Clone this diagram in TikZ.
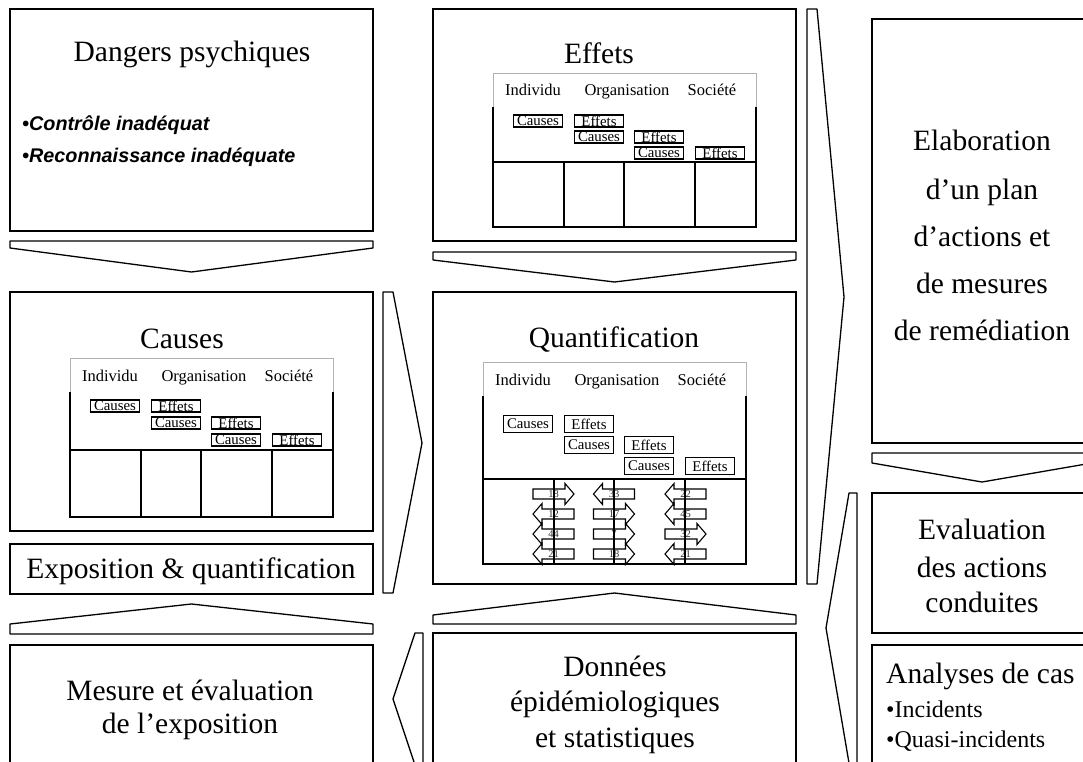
\documentclass[tikz,border=0pt]{standalone}
\usepackage{fontspec}
\setmainfont{Liberation Serif}
\newfontfamily\sansbi{Liberation Sans}

% Small three-level table: #1 name prefix, #2 left, #3 top, #4 height,
% #5 offset of the inner rule, #6 tag height, #7-#9 tag row offsets
\newcommand{\gridtab}[9]{%
  \begin{scope}[shift={(#2,#3)}]
    \draw[gray!60, line width=0.6pt] (0,34) -- (0,0) -- (263,0) -- (263,34);
    \draw[line width=1.2pt] (0,34) -- (0,#4) -- (263,#4) -- (263,34);
    \draw[line width=1.2pt] (0,#5) -- (263,#5);
    \foreach \dx in {71,131,202} \draw[line width=1.2pt] (\dx,#5) -- (\dx,#4);
    \node[hdr] (#1-ind) at (40,23) {Individu};
    \node[hdr] (#1-org) at (134,23) {Organisation};
    \node[hdr] (#1-soc) at (219,23) {Société};
    \node[tag, minimum height=#6] (#1-c1) at (45,#7)  {Causes};
    \node[tag, minimum height=#6] (#1-e1) at (106,#7) {Effets};
    \node[tag, minimum height=#6] (#1-c2) at (106,#8) {Causes};
    \node[tag, minimum height=#6] (#1-e2) at (166,#8) {Effets};
    \node[tag, minimum height=#6] (#1-c3) at (166,#9) {Causes};
    \node[tag, minimum height=#6] (#1-e3) at (227,#9) {Effets};
  \end{scope}}

% Block arrow with a number: #1 name, #2 centre x, #3 centre y, #4 direction (1 or -1), #5 number
\newcommand{\qarrow}[5]{%
  \draw[line width=1.1pt, fill=white]
    ({#2-20.5*#4},{#3-5}) -- ({#2+11.5*#4},{#3-5}) -- ({#2+11.5*#4},{#3-10.5})
    -- ({#2+20.5*#4},{#3}) -- ({#2+11.5*#4},{#3+10.5}) -- ({#2+11.5*#4},{#3+5})
    -- ({#2-20.5*#4},{#3+5}) -- cycle;
  \node[num] (#1) at (#2,#3) {#5};}

\begin{document}
\begin{tikzpicture}[x=1pt,y=-1pt,
  box/.style={draw=black, line width=1.3pt},
  chev/.style={draw=black, line width=1.3pt, line join=round},
  title/.style={font=\fontsize{29.5}{30}\selectfont, anchor=base, inner sep=0pt},
  bigleft/.style={font=\fontsize{29.5}{30}\selectfont, anchor=base west, inner sep=0pt},
  smallleft/.style={font=\fontsize{24}{25}\selectfont, anchor=base west, inner sep=0pt},
  bullet/.style={font=\sansbi\bfseries\itshape\fontsize{19.8}{20}\selectfont, anchor=base west, inner sep=0pt},
  hdr/.style={font=\fontsize{16.5}{17}\selectfont, anchor=base, inner sep=0pt},
  tag/.style={draw, line width=1.1pt, inner sep=0pt, font=\fontsize{14.8}{15}\selectfont, minimum width=49pt},
  num/.style={font=\fontsize{10.5}{11}\selectfont, text=black!80, inner sep=0pt}
]
\useasboundingbox (0,0) rectangle (1083,762);
\clip (0,0) rectangle (1083,762);
\fill[white] (0,0) rectangle (1083,762);

% ---- left column ----
\draw[box] (10,9) rectangle (373,231);
\node[title] (dangers) at (192,62) {Dangers psychiques};
\node[bullet] (ctrl) at (22,131) {•Contrôle inadéquat};
\node[bullet] (reco) at (22,163) {•Reconnaissance inadéquate};
\draw[chev] (10,241) -- (373,241) -- (373,248) -- (191.5,272) -- (10,248) -- cycle;

\draw[box] (10,292) rectangle (373,531);
\node[title] (causes) at (182,348) {Causes};
\gridtab{ct}{70}{358}{159}{92}{12}{48}{65}{82}

\draw[box] (10,544) rectangle (373,594);
\node[title] (expo) at (191,578) {Exposition \& quantification};
\draw[chev] (10,634) -- (373,634) -- (373,624) -- (191.5,604) -- (10,624) -- cycle;

\draw[box] (10,645) rectangle (373,775);
\node[title] (mes1) at (190,700) {Mesure et évaluation};
\node[title] (mes2) at (190,733) {de l’exposition};

% ---- middle column ----
\draw[chev] (383,292) -- (393,292) -- (422,443) -- (393,593) -- (383,593) -- cycle;
\draw[chev] (423,633) -- (415,633) -- (393,699) -- (415,765) -- (423,765) -- cycle;

\draw[box] (433,9) rectangle (796,241);
\node[title] (effets) at (599,64) {Effets};
\gridtab{et}{493}{73}{154}{89}{12}{48}{64}{80}
\draw[chev] (433,252) -- (796,252) -- (796,260) -- (614.5,282) -- (433,260) -- cycle;

\draw[box] (433,292) rectangle (796,584);
\node[title] (quant) at (614,347) {Quantification};
\gridtab{qt}{483}{362}{202}{117}{17}{62}{83}{104}
\qarrow{a11}{553.5}{494}{1}{18}
\qarrow{a12}{553.5}{514}{-1}{12}
\qarrow{a13}{553.5}{534}{-1}{44}
\qarrow{a14}{553.5}{554}{-1}{21}
\qarrow{a21}{614}{494}{-1}{33}
\qarrow{a22}{614}{514}{1}{17}
\qarrow{a23}{614}{534}{1}{7}
\qarrow{a24}{614}{554}{1}{18}
\qarrow{a31}{685.5}{494}{-1}{22}
\qarrow{a32}{685.5}{514}{-1}{45}
\qarrow{a33}{685.5}{534}{1}{32}
\qarrow{a34}{685.5}{554}{-1}{21}
\foreach \xx in {554,614,685} \draw[line width=1.2pt] (\xx,479) -- (\xx,564);
\draw[line width=1.2pt] (483,564) -- (746,564);

\draw[chev] (433,624) -- (796,624) -- (796,615) -- (614.5,593) -- (433,615) -- cycle;
\draw[box] (433,633) rectangle (796,775);
\node[title] (don1) at (615,676) {Données};
\node[title] (don2) at (615,711) {épidémiologiques};
\node[title] (don3) at (615,747) {et statistiques};

% ---- right column ----
\draw[chev] (807,9) -- (817,9) -- (844,297) -- (817,584) -- (807,584) -- cycle;
\draw[chev] (857,493) -- (849,493) -- (826,628) -- (849,763) -- (857,763) -- cycle;

\draw[box] (872,19) rectangle (1092,443);
\node[title] (ela1) at (982,151) {Elaboration};
\node[title] (ela2) at (982,199) {d’un plan};
\node[title] (ela3) at (982,246) {d’actions et};
\node[title] (ela4) at (982,293) {de mesures};
\node[title] (ela5) at (982,340) {de remédiation};
\draw[chev] (872,453) -- (1092,453) -- (1092,463) -- (982,482) -- (872,463) -- cycle;

\draw[box] (872,493) rectangle (1092,633);
\node[title] (eva1) at (982,539) {Evaluation};
\node[title] (eva2) at (982,577) {des actions};
\node[title] (eva3) at (982,612) {conduites};

\draw[box] (872,645) rectangle (1092,775);
\node[bigleft] (ana) at (886,683) {Analyses de cas};
\node[smallleft] (inc) at (886,717) {•Incidents};
\node[smallleft] (qinc) at (886,747) {•Quasi-incidents};
\end{tikzpicture}
\end{document}
